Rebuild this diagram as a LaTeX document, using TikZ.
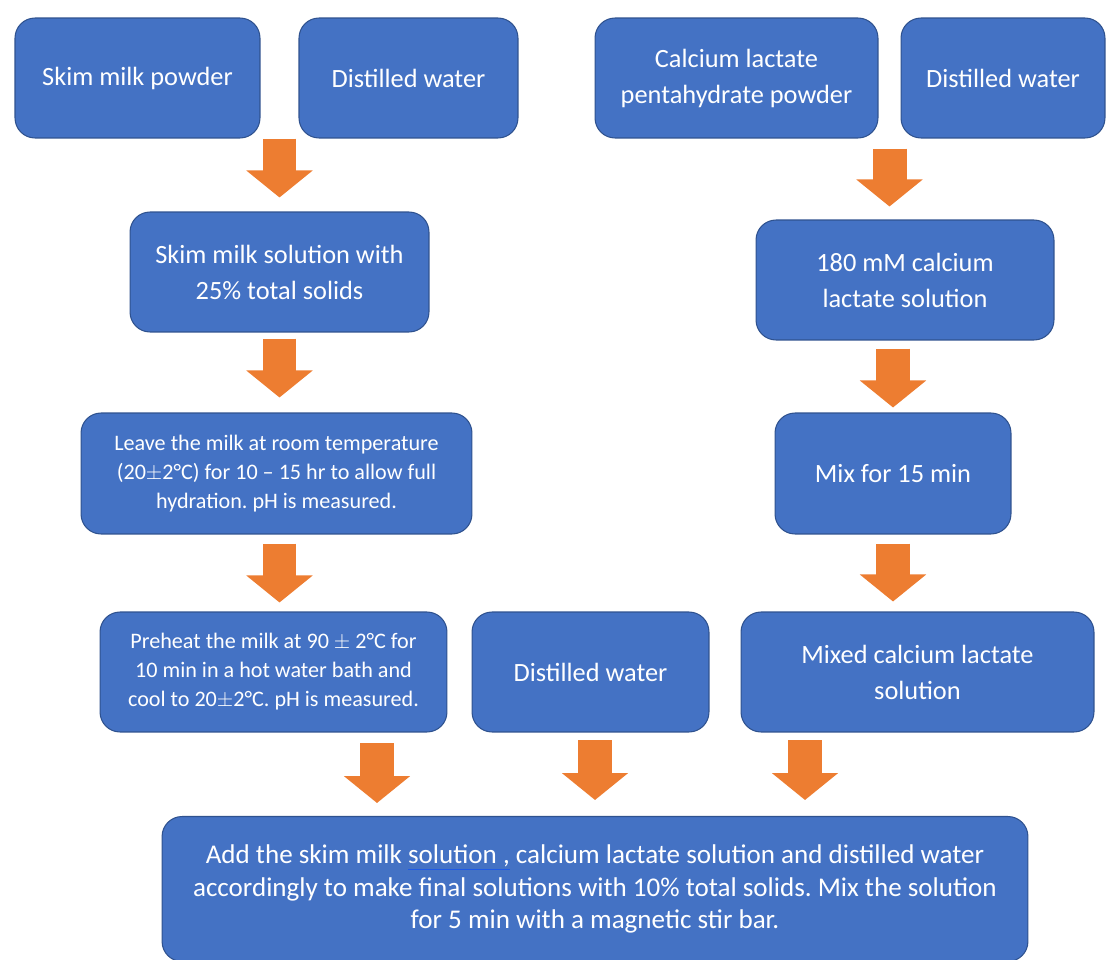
\documentclass[tikz,border=0pt]{standalone}
\usepackage{fontspec}
\setmainfont{Carlito}
\usetikzlibrary{arrows.meta,calc}
\definecolor{flowBlue}{RGB}{68, 114, 196}
\definecolor{flowEdge}{RGB}{47, 82, 143}
\definecolor{flowOrange}{RGB}{237, 125, 49}
\definecolor{flowCheck}{RGB}{30, 90, 230}
\frenchspacing

\begin{document}
\begin{tikzpicture}[
  x=0.02cm, y=-0.02cm,
  box/.style={
    draw=flowEdge,
    line width=0.6pt,
    fill=flowBlue,
    rounded corners=0.4cm,
    minimum height=2.4cm,
    align=center,
    text=white,
    inner sep=2pt,
    font=\fontsize{15}{20.5}\selectfont
  },
  smallbox/.style={box,font=\fontsize{12.6}{16.5}\selectfont},
  arrow/.style={draw=flowOrange,line width=0.68cm,
    -{Triangle[width=1.3cm,length=0.54cm]}}
]
  \useasboundingbox (0,0) rectangle (1109,960);
  \node[box,minimum width=4.9cm] (skim) at (137.5,78) {Skim milk powder};
  \node[box,minimum width=4.38cm] (waterA) at (408.5,78) {Distilled water};
  \node[box,minimum width=5.66cm] (calc) at (736.5,78) {Calcium lactate\\pentahydrate powder};
  \node[box,minimum width=4.08cm] (waterB) at (1003,78) {Distilled water};
  \node[box,minimum width=5.98cm] (sol) at (279.5,272) {Skim milk solution with\\25\% total solids};
  \node[box,minimum width=5.96cm] (clsol) at (905,280) {180 mM calcium\\lactate solution};
  \node[smallbox,minimum width=7.82cm,minimum height=2.42cm] (rest) at (276.5,473.5) {Leave the milk at room temperature\\(20$\pm$2°C) for 10 -- 15 hr to allow full\\hydration. pH is measured.};
  \node[box,minimum width=4.72cm,minimum height=2.42cm] (mix) at (893,473.5) {Mix for 15 min};
  \node[smallbox,minimum width=6.94cm] (heat) at (273.5,672) {Preheat the milk at 90 $\pm$ 2°C for\\10 min in a hot water bath and\\cool to 20$\pm$2°C. pH is measured.};
  \node[box,minimum width=4.74cm] (waterC) at (590.5,672) {Distilled water};
  \node[box,minimum width=7.06cm] (mixed) at (917.5,672) {Mixed calcium lactate\\solution};
  \node[box,minimum width=17.32cm,minimum height=2.9cm,font=\fontsize{15.4}{18.7}\selectfont] (final) at (595,889) {Add the skim milk {\color{flowCheck}\underline{\color{white}solution ,}} calcium lactate solution and distilled water\\accordingly to make final solutions with 10\% total solids. Mix the solution\\for 5 min with a magnetic stir bar.};
  \coordinate (topL) at ($(skim.south east)!0.5!(waterA.south west)$);
  \coordinate (topR) at ($(calc.south east)!0.5!(waterB.south west)$);
  \coordinate (inA) at (377,743);
  \coordinate (inB) at (595,740);
  \coordinate (inC) at (805,740);
  \draw[arrow] (sol.north |- topL) -- ([yshift=0.28cm]sol.north);
  \draw[arrow] ([yshift=-0.2cm]topR) -- ([yshift=0.26cm]topR |- clsol.north);
  \draw[arrow] ([yshift=-0.12cm]sol.south) -- ([yshift=0.3cm]sol.south |- rest.north);
  \draw[arrow] ([yshift=-0.16cm]mix.north |- clsol.south) -- ([yshift=0.1cm]mix.north);
  \draw[arrow] ([yshift=-0.18cm]sol.south |- rest.south) -- ([yshift=0.18cm]sol.south |- heat.north);
  \draw[arrow] ([yshift=-0.18cm]mix.south) -- ([yshift=0.2cm]mix.south |- mixed.north);
  \draw[arrow] (inA) -- ([yshift=0.26cm]inA |- final.north);
  \draw[arrow] (inB) -- ([yshift=0.32cm]inB |- final.north);
  \draw[arrow] (inC) -- ([yshift=0.32cm]inC |- final.north);
\end{tikzpicture}
\end{document}
